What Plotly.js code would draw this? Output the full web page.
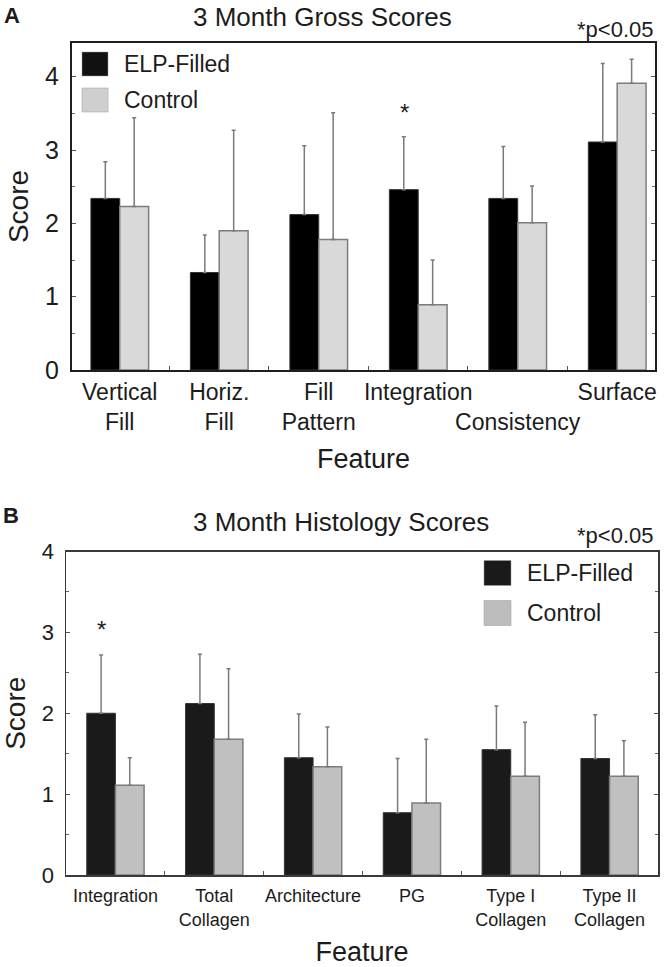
<!DOCTYPE html>
<html>
<head>
<meta charset="utf-8">
<script src="https://cdn.plot.ly/plotly-3.0.1.min.js"></script>
<style>
  html, body { margin: 0; padding: 0; background: #fff; }
  #plot { width: 667px; height: 967px; }
</style>
</head>
<body>
<div id="plot"></div>
<script>
// Panel A - gross scores
const grossFeatures = ["Vertical Fill", "Horiz. Fill", "Fill Pattern", "Integration", "Consistency", "Surface"];
const grossTickLabels = ["Vertical<br>Fill", "Horiz.<br>Fill", "Fill<br>Pattern", "Integration", "&nbsp;<br>Consistency", "Surface"];
const grossElp = [2.34, 1.33, 2.12, 2.46, 2.34, 3.11];
const grossElpErr = [0.50, 0.51, 0.94, 0.72, 0.71, 1.07];
const grossCtrl = [2.23, 1.90, 1.78, 0.89, 2.01, 3.91];
const grossCtrlErr = [1.21, 1.37, 1.73, 0.61, 0.50, 0.33];
const grossSig = ["Integration"];

// Panel B - histology scores
const histoFeatures = ["Integration", "Total Collagen", "Architecture", "PG", "Type I Collagen", "Type II Collagen"];
const histoTickLabels = ["Integration", "Total<br>Collagen", "Architecture", "PG", "Type I<br>Collagen", "Type II<br>Collagen"];
const histoElp = [2.00, 2.12, 1.45, 0.77, 1.55, 1.44];
const histoElpErr = [0.72, 0.61, 0.54, 0.67, 0.54, 0.54];
const histoCtrl = [1.11, 1.68, 1.34, 0.89, 1.22, 1.22];
const histoCtrlErr = [0.34, 0.87, 0.49, 0.79, 0.67, 0.44];
const histoSig = ["Integration"];

const W = 667, H = 967;
const FONT = "Liberation Sans, Arial, Helvetica, sans-serif";
const TXT = "#1c1c1c";
const ERR = "#7a7a7a";

function px(p) { return p / W; }
function py(p) { return 1 - p / H; }

function errBar(vals) {
    return {
        type: "data", symmetric: false, array: vals,
        arrayminus: vals.map(() => 0),
        color: ERR, thickness: 1.5, width: 2
    };
}

function barPair(feat, elp, elpErr, ctrl, ctrlErr, xa, ya, elpColor, ctrlColor) {
    return [
        {
            type: "bar", x: feat, y: elp, name: "ELP-Filled", xaxis: xa, yaxis: ya,
            marker: { color: elpColor, line: { color: "#333", width: 1 } },
            error_y: errBar(elpErr), hoverinfo: "y"
        },
        {
            type: "bar", x: feat, y: ctrl, name: "Control", xaxis: xa, yaxis: ya,
            marker: { color: ctrlColor, line: { color: "#7d7d7d", width: 1.5 } },
            error_y: errBar(ctrlErr), hoverinfo: "y"
        }
    ];
}

let data = [].concat(
    barPair(grossFeatures, grossElp, grossElpErr, grossCtrl, grossCtrlErr, "x", "y", "#000000", "#d9d9d9"),
    barPair(histoFeatures, histoElp, histoElpErr, histoCtrl, histoCtrlErr, "x2", "y2", "#1a1a1a", "#c0c0c0")
);

function xAxis(domain, range, feats, labels, size, lineW, lineC, lblStandoff, standoff) {
    return {
        domain: domain, range: range, type: "category",
        tickvals: feats, ticktext: labels, tickangle: 0,
        tickson: "boundaries", ticks: "inside", ticklen: 4, tickcolor: "#555",
        showline: true, linecolor: lineC, linewidth: lineW, mirror: true,
        showgrid: false, zeroline: false, fixedrange: true,
        tickfont: { family: FONT, size: size, color: TXT },
        ticklabelstandoff: lblStandoff,
        title: { text: "Feature", font: { family: FONT, size: 27, color: TXT }, standoff: standoff }
    };
}

function yAxis(domain, range, size, lineW, lineC, anchor) {
    return {
        domain: domain, range: range, anchor: anchor,
        dtick: 1, tick0: 0, ticks: "inside", ticklen: 4, tickcolor: "#555",
        minor: { dtick: 0.5, ticks: "inside", ticklen: 3, tickcolor: "#666" },
        showline: true, linecolor: lineC, linewidth: lineW, mirror: "allticks",
        showgrid: false, zeroline: false, fixedrange: true,
        tickfont: { family: FONT, size: size, color: TXT },
        ticklabelstandoff: 6,
        title: { text: "Score", font: { family: FONT, size: 28, color: TXT }, standoff: 8 }
    };
}

let layout = {
    width: W, height: H,
    margin: { l: 0, r: 0, t: 0, b: 0 },
    paper_bgcolor: "#fff", plot_bgcolor: "#fff",
    showlegend: false,
    barmode: "group", bargap: 0.42, bargroupgap: 0,
    font: { family: FONT, color: TXT },
    xaxis: xAxis([px(72), px(655)], [-0.48, 5.38], grossFeatures, grossTickLabels, 23, 2, "#1e1e1e", 0, 16),
    yaxis: yAxis([py(370), py(43)], [0, 4.46], 25, 2, "#1e1e1e", "x"),
    xaxis2: Object.assign(xAxis([px(66), px(658)], [-0.5, 5.49], histoFeatures, histoTickLabels, 18, 1.5, "#3a3a3a", 4, 18), { anchor: "y2" }),
    yaxis2: yAxis([py(875), py(551.5)], [0, 4], 22, 1.5, "#3a3a3a", "x2"),
    shapes: [],
    annotations: []
};

function addText(text, x, y, size, opts) {
    layout.annotations.push(Object.assign({
        xref: "paper", yref: "paper", x: px(x), y: py(y), text: text, showarrow: false,
        font: { family: FONT, size: size, color: TXT }, xanchor: "center", yanchor: "middle"
    }, opts || {}));
}

function addLegend(x, y1, y2, sq, elpColor, ctrlColor, size) {
    [[y1, elpColor, "ELP-Filled"], [y2, ctrlColor, "Control"]].forEach(([yc, col, label]) => {
        layout.shapes.push({
            type: "rect", xref: "paper", yref: "paper",
            x0: px(x), x1: px(x + sq), y0: py(yc + sq / 2 - 1), y1: py(yc - sq / 2 + 1),
            fillcolor: col, line: { color: "#9a9a9a", width: 0.5 }
        });
        addText(label, x + sq + 14, yc, size, { xanchor: "left" });
    });
}

// significance stars over the ELP bars
function addStars(feats, sig, elp, err, xa, ya) {
    sig.forEach(f => {
        let i = feats.indexOf(f);
        layout.annotations.push({
            xref: xa, yref: ya, x: f, y: elp[i] + err[i] + 0.12, xshift: -14,
            text: "*", showarrow: false, yanchor: "bottom",
            font: { family: FONT, size: 24, color: TXT }
        });
    });
}

// Panel A
addText("<b>A</b>", 12, 15, 22);
addText("3 Month Gross Scores", 322, 17, 26);
addText("*p<0.05", 655, 29, 22, { xanchor: "right" });
addLegend(82, 64, 100, 26, "#111111", "#cfcfcf", 23);
addStars(grossFeatures, grossSig, grossElp, grossElpErr, "x", "y");

// Panel B
addText("<b>B</b>", 11, 515, 22);
addText("3 Month Histology Scores", 341, 522, 26);
addText("*p<0.05", 655, 535, 22, { xanchor: "right" });
addLegend(484, 573, 613, 27, "#1a1a1a", "#bdbdbd", 23);
addStars(histoFeatures, histoSig, histoElp, histoElpErr, "x2", "y2");

Plotly.newPlot("plot", data, layout, { displayModeBar: false, staticPlot: true });
</script>
</body>
</html>
